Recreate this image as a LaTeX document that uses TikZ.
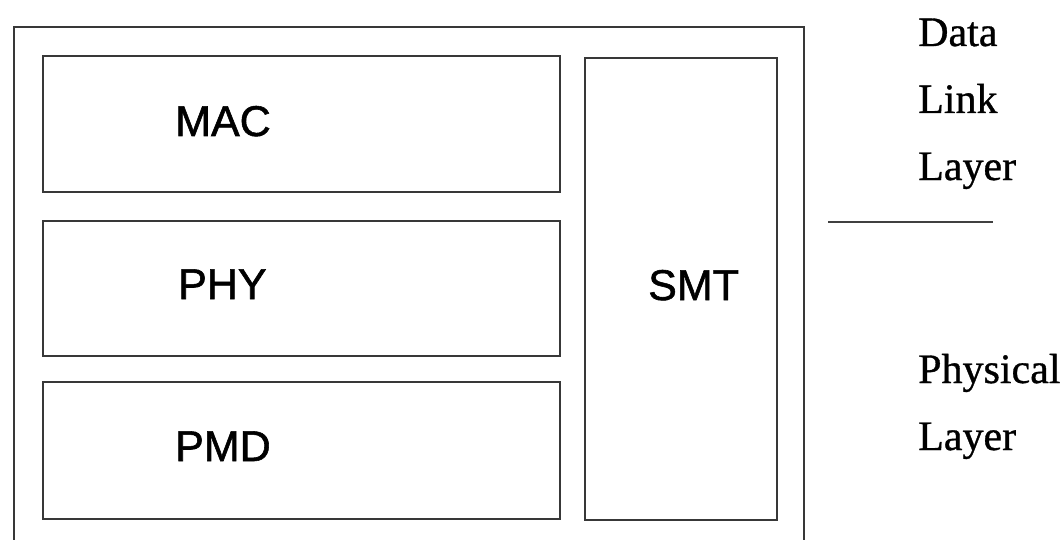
\documentclass[tikz,border=0pt]{standalone}
\usepackage{fontspec}
\setmainfont{Liberation Serif}
\setsansfont{Liberation Sans}
\newfontfamily\boxfont{Liberation Sans}[UprightFeatures={FakeBold=1.3}]
\newfontfamily\sidefont{Liberation Serif}[UprightFeatures={FakeBold=0.8}]
\begin{document}
\begin{tikzpicture}[x=1pt,y=-1pt,
  frame/.style={draw=black!78,line width=2.2pt},
  layerbox/.style={frame,rectangle,inner sep=0pt,anchor=north west},
  boxlabel/.style={anchor=base west,inner sep=0pt,font=\boxfont\fontsize{43}{43}\selectfont},
  sidelabel/.style={anchor=base west,inner sep=0pt,font=\sidefont\fontsize{42}{42}\selectfont}]
\useasboundingbox[fill=white] (0,0) rectangle (1064,540);
% outer frame, running off the lower edge
\coordinate (fbl) at (14,540);
\coordinate (ftl) at (14,27);
\coordinate (ftr) at (804,27);
\coordinate (fbr) at (804,540);
\draw[frame] (fbl) -- (ftl) -- (ftr) -- (fbr);
% protocol sublayers
\node[layerbox,minimum width=517pt,minimum height=136pt] (mac) at (42,55) {};
\node[layerbox,minimum width=517pt,minimum height=135pt] (phy) at (42,220) {};
\node[layerbox,minimum width=517pt,minimum height=137pt] (pmd) at (42,381) {};
\node[layerbox,minimum width=192pt,minimum height=462pt] (smt) at (584,57) {};
\node[boxlabel] (macl) at (175,136) {MAC};
\node[boxlabel] (phyl) at (178,299) {PHY};
\node[boxlabel] (pmdl) at (175,461) {PMD};
\node[boxlabel] (smtl) at (648,300) {SMT};
% OSI layer names
\node[sidelabel] (data) at (918,46) {Data};
\node[sidelabel] (link) at (918,113) {Link};
\node[sidelabel] (dlayer) at (918,180) {Layer};
\node[sidelabel] (phys) at (918,383) {Physical};
\node[sidelabel] (player) at (918,450) {Layer};
\coordinate (sepl) at (828,222);
\coordinate (sepr) at (993,222);
\draw[draw=black!75,line width=1.2pt] (sepl) -- (sepr);
\end{tikzpicture}
\end{document}
